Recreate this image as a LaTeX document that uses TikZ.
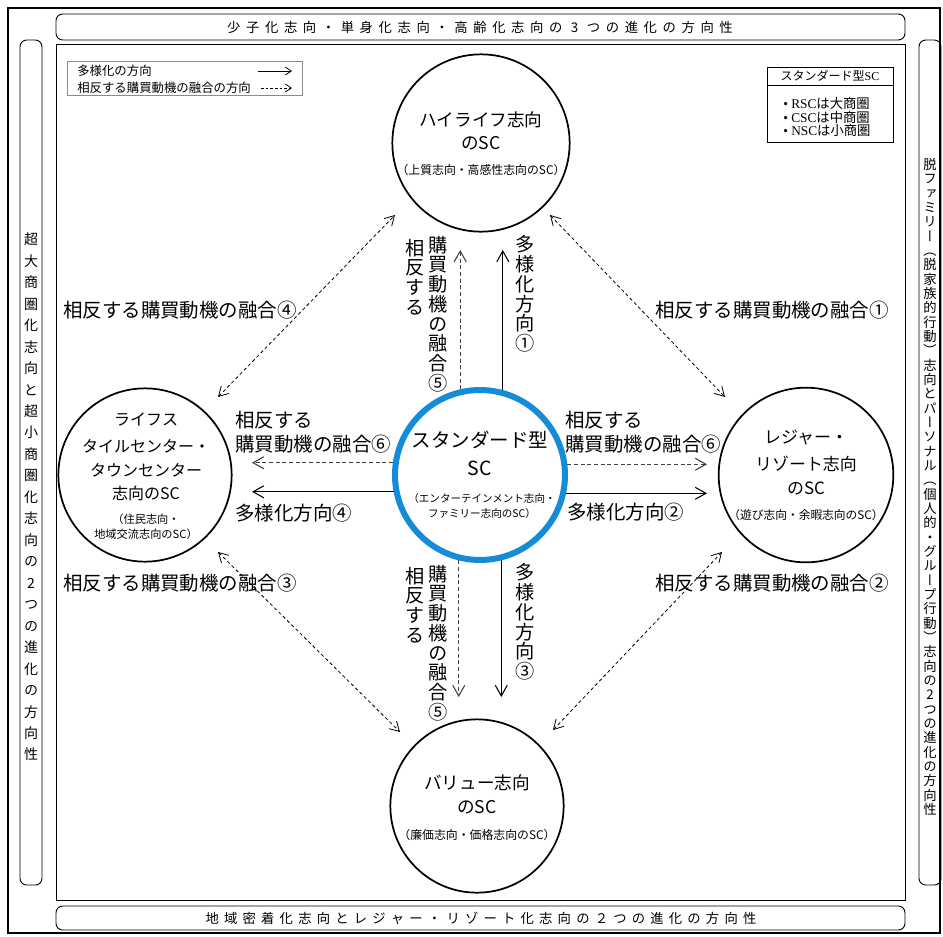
\documentclass[tikz,border=0pt]{standalone}
\usepackage{fontspec}
\setmainfont{Noto Sans CJK JP}
\newfontfamily\vjp[RawFeature=+vert]{Noto Sans CJK JP}
\newfontfamily\lserif{Liberation Serif}
\usetikzlibrary{arrows.meta}
\def\vstEnd{}
\newcommand\vstA[1]{\ifx#1\vstEnd\else\hbox to 1em{\hss#1\hss}\expandafter\vstA\fi}
\newcommand\vst[2]{\vbox{\baselineskip=#1\relax\lineskiplimit=-1000pt\relax\lineskip=0pt\relax\vstA#2\vstEnd}}
\newcommand\hspA[1]{\ifx#1\vstEnd\else\hbox to \hsppitch{\hss#1\hss}\expandafter\hspA\fi}
\newcommand\hsp[2]{\def\hsppitch{#1}\hbox{\hspA#2\vstEnd}}
\begin{document}
\begin{tikzpicture}[x=0.75pt,y=-0.75pt,
  circ/.style={circle,draw,line width=1.3pt,minimum size=131pt,inner sep=0pt},
  stdc/.style={circle,draw={rgb,255:red,20;green,140;blue,215},line width=4.5pt,minimum size=127.5pt,inner sep=0pt,fill=white},
  big/.style={inner sep=0pt,font=\fontsize{14.6}{16}\selectfont},
  vbig/.style={inner sep=0pt,font=\fontsize{14.4}{16}\selectfont\vjp},
  ctitle/.style={inner sep=0pt,font=\fontsize{13.2}{15}\selectfont},
  csub/.style={inner sep=0pt,font=\fontsize{8.9}{10}\selectfont},
  small/.style={inner sep=0pt,font=\fontsize{9.3}{11}\selectfont},
  solidarr/.style={line width=0.8pt,-{Straight Barb[length=8pt,width=9pt]}},
  dasharr/.style={line width=0.8pt,draw=black!75,dash pattern=on 3pt off 2pt,-{Straight Barb[length=8pt,width=9pt]}},
  diag/.style={line width=0.6pt,dash pattern=on 2.5pt off 2pt,{Straight Barb[length=7pt,width=8pt]}-{Straight Barb[length=7pt,width=8pt]}},
  banner/.style={draw,line width=0.7pt,rounded corners=5pt},
]
\useasboundingbox (0,0) rectangle (943,936);
% frames
\draw[line width=1.3pt] (8,8) rectangle (940,933);
\draw[banner] (56,14) rectangle (905,40);
\draw[banner] (20,40) rectangle (42,885);
\draw[banner] (919,40) rectangle (941,885);
\draw[line width=0.6pt] (56,44) rectangle (905,900);
\draw[banner] (56,906) rectangle (905,930);
\node[inner sep=0pt,font=\fontsize{10}{12}\selectfont] (topban) at (480,27) {\hsp{14.2pt}{少子化志向・単身化志向・高齢化志向の3つの進化の方向性}};
\node[inner sep=0pt,font=\fontsize{10}{12}\selectfont] (botban) at (481,918) {\hsp{13.9pt}{地域密着化志向とレジャー・リゾート化志向の２つの進化の方向性}};
\node[inner sep=0pt,font=\fontsize{10.5}{12}\selectfont\vjp] (leftban) at (31,497) {\vst{16.1pt}{超大商圏化志向と超小商圏化志向の2つの進化の方向性}};
\node[inner sep=0pt,font=\fontsize{10}{12}\selectfont\vjp] (rightban) at (930,487) {\vst{10.75pt}{脱ファミリー（脱家族的行動）志向とパーソナル（個人的・グループ行動）志向の2つの進化の方向性}};

% legend
\draw[draw=black!45,line width=0.6pt] (67,61) rectangle (302,95);
\node[small,anchor=west] (lg1) at (77,71) {多様化の方向};
\node[small,anchor=west] (lg2) at (77,88) {相反する購買動機の融合の方向};
\coordinate (lg1a) at (258,71); \coordinate (lg1b) at (292,71);
\coordinate (lg2a) at (261,88); \coordinate (lg2b) at (292,88);
\draw[line width=0.6pt,-{Straight Barb[length=4.5pt,width=6pt]}] (lg1a) -- (lg1b);
\draw[line width=0.6pt,dash pattern=on 2pt off 1.5pt,-{Straight Barb[length=4.5pt,width=6pt]}] (lg2a) -- (lg2b);

% standard box
\draw[line width=0.6pt] (767,67) rectangle (893,142);
\draw[line width=0.6pt] (767,85) -- (893,85);
\node[inner sep=0pt,font=\fontsize{9}{10}\selectfont] (sbh) at (830,76) {スタンダード型{\lserif SC}};
\node[inner sep=0pt,font=\fontsize{10}{11}\selectfont,anchor=west] (sb1) at (783,103) {{\lserif\textbullet\ RSC}は大商圏};
\node[inner sep=0pt,font=\fontsize{10}{11}\selectfont,anchor=west] (sb2) at (783,117) {{\lserif\textbullet\ CSC}は中商圏};
\node[inner sep=0pt,font=\fontsize{10}{11}\selectfont,anchor=west] (sb3) at (783,130) {{\lserif\textbullet\ NSC}は小商圏};

% circles
\node[circ,minimum size=133pt] (hl) at (481,143) {};
\node[circ,minimum size=130pt] (lf) at (145,475) {};
\node[circ,minimum size=131pt] (rs) at (806,475) {};
\node[circ,minimum size=130pt] (va) at (477,806) {};
\node[stdc] (std) at (480,475) {};

% circle texts
\node[ctitle] (hlt1) at (481,120) {ハイライフ志向};
\node[ctitle] (hlt2) at (481,143) {のSC};
\node[csub] (hlt3) at (481,170) {（上質志向・高感性志向のSC）};

\node[inner sep=0pt,font=\fontsize{14.6}{16}\selectfont] (stt1) at (480,440) {スタンダード型};
\node[inner sep=0pt,font=\fontsize{14.6}{16}\selectfont] (stt2) at (480,468) {SC};
\node[inner sep=0pt,font=\fontsize{7.9}{9}\selectfont] (stt3) at (482,498) {（エンターテインメント志向・};
\node[inner sep=0pt,font=\fontsize{7.9}{9}\selectfont] (stt4) at (482,513) {ファミリー志向のSC）};

\node[inner sep=0pt,font=\fontsize{12}{14}\selectfont] (lft1) at (146,420) {ライフス};
\node[inner sep=0pt,font=\fontsize{12}{14}\selectfont] (lft2) at (146,446) {タイルセンター・};
\node[inner sep=0pt,font=\fontsize{12}{14}\selectfont] (lft3) at (146,470) {タウンセンター};
\node[inner sep=0pt,font=\fontsize{12}{14}\selectfont] (lft4) at (146,493) {志向のSC};
\node[inner sep=0pt,font=\fontsize{8.4}{10}\selectfont] (lft5) at (146,519) {（住民志向・};
\node[inner sep=0pt,font=\fontsize{8.4}{10}\selectfont] (lft6) at (146,534) {地域交流志向のSC）};

\node[inner sep=0pt,font=\fontsize{12.7}{14}\selectfont] (rst1) at (806,438) {レジャー・};
\node[inner sep=0pt,font=\fontsize{12.7}{14}\selectfont] (rst2) at (806,464) {リゾート志向};
\node[inner sep=0pt,font=\fontsize{12.7}{14}\selectfont] (rst3) at (806,488) {のSC};
\node[inner sep=0pt,font=\fontsize{8.8}{10}\selectfont] (rst4) at (806,515) {（遊び志向・余暇志向のSC）};

\node[ctitle] (vat1) at (477,783) {バリュー志向};
\node[ctitle] (vat2) at (477,807) {のSC};
\node[csub] (vat3) at (477,835) {（廉価志向・価格志向のSC）};

% central arrows
\coordinate (tipT) at (480,250);
\coordinate (tipB) at (480,697);
\coordinate (tipL) at (252,475);
\coordinate (tipR) at (707,475);
\draw[solidarr] (std.75.5) -- (std.75.5 |- tipT);
\draw[dasharr] (std.103.8) -- (std.103.8 |- tipT);
\draw[solidarr] (std.284.5) -- (std.284.5 |- tipB);
\draw[dasharr] (std.256.2) -- (std.256.2 |- tipB);
\draw[solidarr] (std.191.1) -- (std.191.1 -| tipL);
\draw[dasharr] (std.172.8) -- (std.172.8 -| tipL);
\draw[solidarr] (std.348.9) -- (std.348.9 -| tipR);
\draw[dasharr] (std.7.2) -- (std.7.2 -| tipR);

% diagonal arrows
\coordinate (dTLa) at (218,397); \coordinate (dTLb) at (395,215);
\coordinate (dTRa) at (550,215); \coordinate (dTRb) at (725,397);
\coordinate (dBLa) at (218,552); \coordinate (dBLb) at (400,732);
\coordinate (dBRa) at (553,730); \coordinate (dBRb) at (722,552);
\draw[diag] (dTLa) -- (dTLb);
\draw[diag] (dTRa) -- (dTRb);
\draw[diag] (dBLa) -- (dBLb);
\draw[diag] (dBRa) -- (dBRb);

% diagonal labels
\node[big] (l4) at (180,310) {相反する購買動機の融合④};
\node[big] (l1) at (772,310) {相反する購買動機の融合①};
\node[big] (l3) at (180,583) {相反する購買動機の融合③};
\node[big] (l2) at (772,583) {相反する購買動機の融合②};

% horizontal labels
\node[big,anchor=west] (hl6a) at (235,420) {相反する};
\node[big,anchor=west] (hl6b) at (235,444) {購買動機の融合⑥};
\node[big,anchor=west] (hl4) at (235,513) {多様化方向④};
\node[big,anchor=west] (hr6a) at (565,420) {相反する};
\node[big,anchor=west] (hr6b) at (565,444) {購買動機の融合⑥};
\node[big,anchor=west] (hr2) at (567,512) {多様化方向②};

% vertical labels
\node[vbig] (vt1) at (525,294) {\vst{14.8pt}{多様化方向①}};
\node[vbig] (vt5) at (438,314) {\vst{14.8pt}{購買動機の融合⑤}};
\node[vbig] (vt5a) at (415,277) {\vst{14.8pt}{相反する}};
\node[vbig] (vb3) at (525,622) {\vst{14.8pt}{多様化方向③}};
\node[vbig] (vb5) at (438,643) {\vst{14.8pt}{購買動機の融合⑤}};
\node[vbig] (vb5a) at (415,605) {\vst{14.8pt}{相反する}};
\end{tikzpicture}
\end{document}
